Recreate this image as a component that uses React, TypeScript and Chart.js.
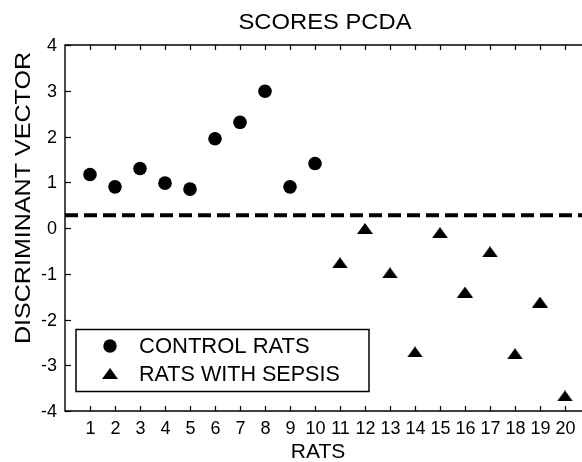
import React, { useEffect, useRef } from "react";
import { Chart, registerables } from "chart.js";

Chart.register(...registerables);

const controlRatIds = [1, 2, 3, 4, 5, 6, 7, 8, 9, 10];
const controlScores = [1.17, 0.9, 1.3, 0.98, 0.85, 1.95, 2.31, 2.99, 0.9, 1.41];
const sepsisRatIds = [11, 12, 13, 14, 15, 16, 17, 18, 19, 20];
const sepsisScores = [-0.76, -0.01, -0.98, -2.71, -0.1, -1.4, -0.52, -2.75, -1.62, -3.67];
const thresholdValue = 0.28;
const xTickValues = [1, 2, 3, 4, 5, 6, 7, 8, 9, 10, 11, 12, 13, 14, 15, 16, 17, 18, 19, 20];
const yTickValues = [-4, -3, -2, -1, 0, 1, 2, 3, 4];
const legendLabels = ["CONTROL RATS", "RATS WITH SEPSIS"];
const titleText = "SCORES PCDA";
const xTitle = "RATS";
const yTitle = "DISCRIMINANT VECTOR";

const FONT = '"Liberation Sans", Arial, Helvetica, sans-serif';

function makeTriangle(w: number, h: number): HTMLCanvasElement {
  const c = document.createElement("canvas");
  c.width = w;
  c.height = h;
  const g = c.getContext("2d")!;
  g.fillStyle = "#000";
  g.beginPath();
  g.moveTo(0, h);
  g.lineTo(w / 2, 0);
  g.lineTo(w, h);
  g.closePath();
  g.fill();
  return c;
}

function txt(
  ctx: CanvasRenderingContext2D,
  s: string,
  x: number,
  y: number,
  size: number,
  align: CanvasTextAlign,
  sx = 1,
  rot = 0
) {
  ctx.save();
  ctx.translate(x, y);
  if (rot) ctx.rotate(rot);
  ctx.scale(sx, 1);
  ctx.font = `${size}px ${FONT}`;
  ctx.fillStyle = "#000";
  ctx.textAlign = align;
  ctx.textBaseline = "middle";
  ctx.fillText(s, 0, 0);
  ctx.restore();
}

export default function App() {
  const ref = useRef<HTMLCanvasElement>(null);

  useEffect(() => {
    if (!ref.current) return;
    const tri = makeTriangle(16, 11);

    const decor = {
      id: "decor",
      afterDraw(chart: any) {
        const ctx: CanvasRenderingContext2D = chart.ctx;
        const xs = chart.scales.x;
        const ys = chart.scales.y;
        const a = chart.chartArea;
        ctx.save();
        ctx.strokeStyle = "#000";
        ctx.lineWidth = 1.4;
        // frame
        ctx.beginPath();
        ctx.moveTo(a.right, a.top);
        ctx.lineTo(a.left, a.top);
        ctx.lineTo(a.left, a.bottom);
        ctx.lineTo(a.right, a.bottom);
        ctx.lineTo(a.right, a.top);
        ctx.stroke();
        // x ticks (inward, top & bottom)
        ctx.lineWidth = 1.2;
        xTickValues.forEach((v) => {
          const px = Math.round(xs.getPixelForValue(v)) + 0.5;
          ctx.beginPath();
          ctx.moveTo(px, a.bottom);
          ctx.lineTo(px, a.bottom - 5);
          ctx.moveTo(px, a.top);
          ctx.lineTo(px, a.top + 5);
          ctx.stroke();
          txt(ctx, String(v), px, a.bottom + 18, 18, "center", 1.0);
        });
        // y ticks
        yTickValues.forEach((v) => {
          const py = Math.round(ys.getPixelForValue(v)) + 0.5;
          ctx.beginPath();
          ctx.moveTo(a.left, py);
          ctx.lineTo(a.left + 6, py);
          ctx.stroke();
          txt(ctx, String(v), a.left - 8, py + 1, 18, "right", 1.0);
        });
        // titles
        txt(ctx, titleText, 325, 23, 22, "center", 1.08);
        txt(ctx, xTitle, 318, 452, 21, "center", 1.0);
        txt(ctx, yTitle, 24, 198, 22, "center", 1.14, -Math.PI / 2);
        // legend
        ctx.lineWidth = 1.5;
        ctx.strokeRect(76, 329.5, 293, 62);
        ctx.fillStyle = "#000";
        ctx.beginPath();
        ctx.arc(110, 346, 6.7, 0, Math.PI * 2);
        ctx.fill();
        ctx.drawImage(tri, 102, 368);
        txt(ctx, legendLabels[0], 139, 347, 22, "left", 1.0);
        txt(ctx, legendLabels[1], 139, 375, 22, "left", 0.98);
        ctx.restore();
      },
    };

    const chart = new Chart(ref.current, {
      type: "scatter",
      data: {
        datasets: [
          {
            label: legendLabels[0],
            data: controlRatIds.map((x, i) => ({ x, y: controlScores[i] })),
            pointStyle: "circle",
            pointRadius: 6.8,
            pointBorderWidth: 0,
            backgroundColor: "#000",
            borderColor: "#000",
          },
          {
            label: legendLabels[1],
            data: sepsisRatIds.map((x, i) => ({ x, y: sepsisScores[i] })),
            pointStyle: tri as any,
            pointRadius: 8,
            backgroundColor: "#000",
            borderColor: "#000",
          },
          {
            type: "line",
            label: "threshold",
            data: [
              { x: 0, y: thresholdValue },
              { x: 21, y: thresholdValue },
            ],
            borderColor: "#000",
            borderWidth: 4,
            borderDash: [13, 6],
            pointRadius: 0,
            showLine: true,
            fill: false,
          } as any,
        ],
      },
      options: {
        responsive: false,
        animation: false,
        devicePixelRatio: 1,
        layout: { padding: { left: 65, top: 45, right: 10, bottom: 51 } },
        scales: {
          x: { type: "linear", min: 0, max: 21, display: false },
          y: { type: "linear", min: -4, max: 4, display: false },
        },
        plugins: {
          legend: { display: false },
          tooltip: { enabled: false },
          title: { display: false },
        },
      },
      plugins: [decor],
    });
    return () => chart.destroy();
  }, []);

  return (
    <div
      style={{
        position: "absolute",
        left: 0,
        top: 0,
        width: 582,
        height: 462,
        overflow: "hidden",
        background: "#fff",
      }}
    >
      <canvas ref={ref} width={600} height={462} style={{ display: "block" }} />
    </div>
  );
}
